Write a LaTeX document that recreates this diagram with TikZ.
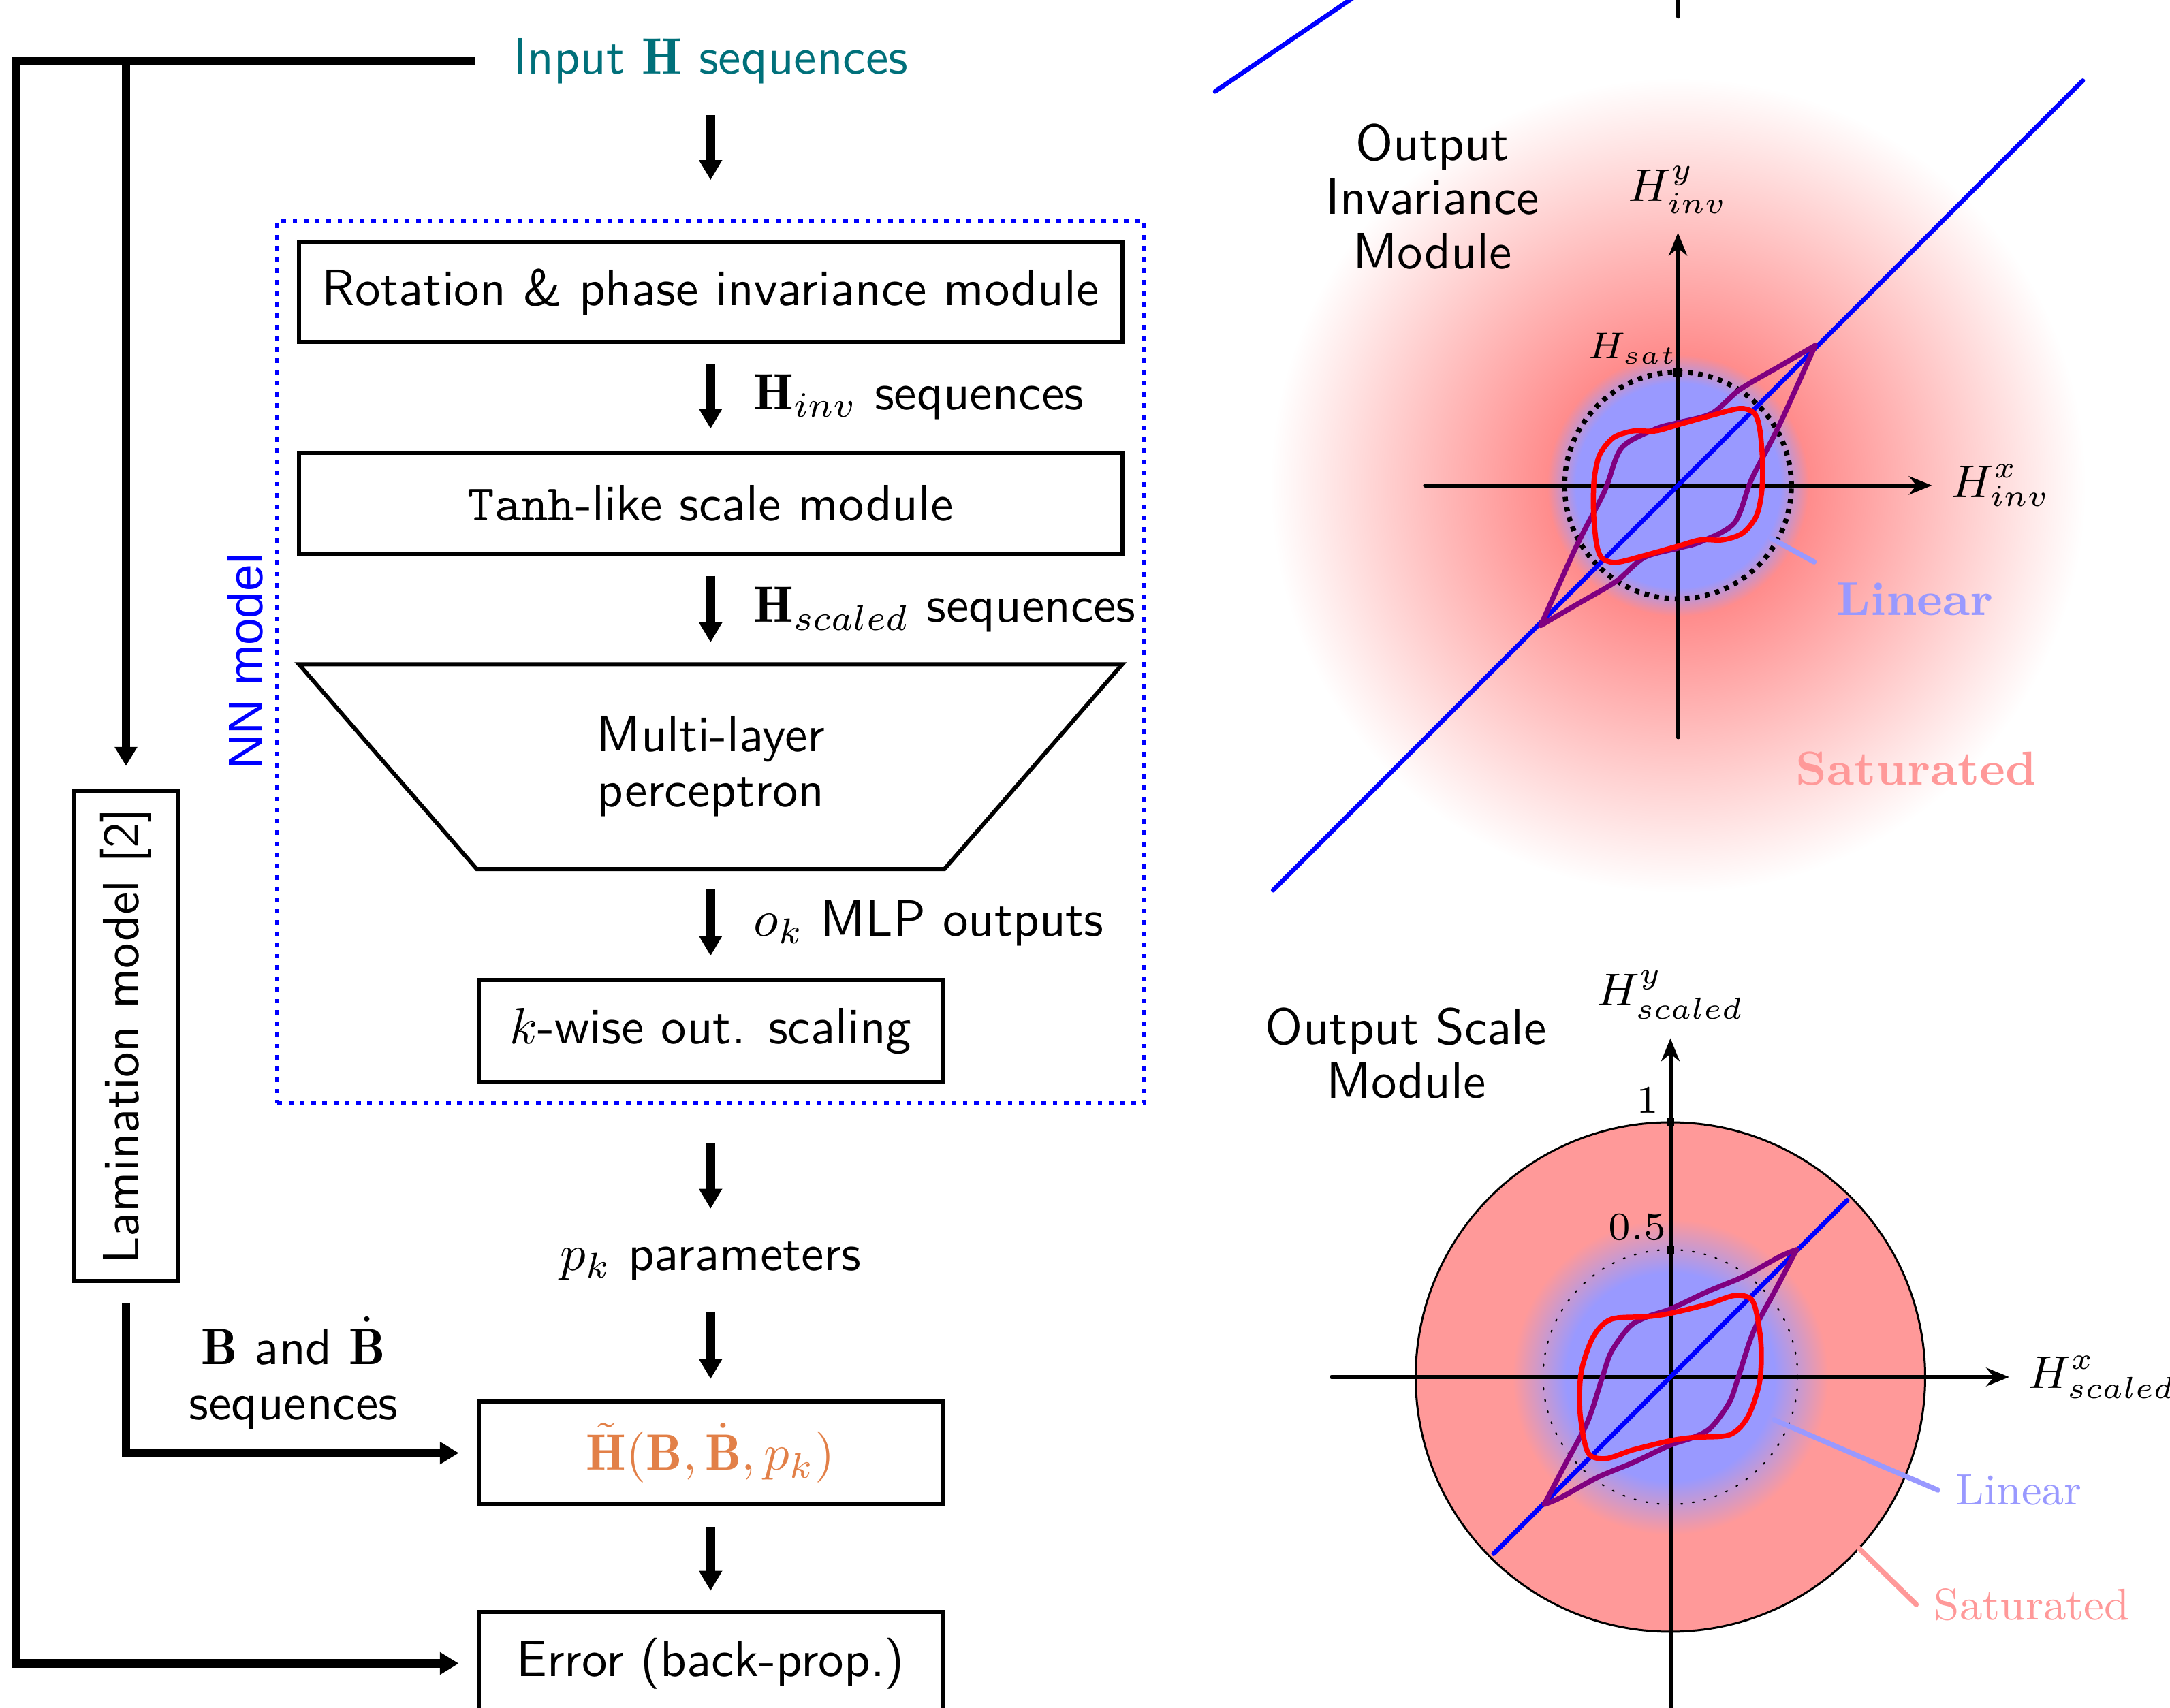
\RequirePackage{fix-cm}
\documentclass[tikz,border=0pt]{standalone}
\usepackage{fontspec}
\newfontfamily\nnfont{Liberation Sans}
\usetikzlibrary{arrows.meta,fit}

\definecolor{inputcol}{RGB}{0,112,122}
\definecolor{htcol}{RGB}{226,128,72}
\pgfdeclareradialshading{invshade}{\pgfpoint{0bp}{0bp}}{color(0bp)=(blue!40); color(6.1bp)=(blue!40); color(7.8bp)=(red!45); color(24.3bp)=(white); color(50bp)=(white)}
\pgfdeclareradialshading{sclshade}{\pgfpoint{0bp}{0bp}}{color(0bp)=(blue!40); color(16.5bp)=(blue!40); color(25bp)=(red!40); color(50bp)=(red!40)}

\begin{document}
\begin{tikzpicture}[line cap=round,font=\sffamily,
  box/.style={draw,line width=.8pt,inner sep=0pt},
  flow/.style={line width=1.7pt,line cap=butt,-{Triangle[length=3.9pt,width=4.3pt]}},
  fb/.style={line width=1.7pt,line cap=butt,-{Triangle[length=3.7pt,width=4.2pt]}},
  side/.style={midway,right,xshift=.15cm},
  axis/.style={line width=.8pt,-{Stealth[length=4.5pt,width=3.6pt]}},
  lbl/.style={font=\fontsize{9}{10}\selectfont},
  loopp/.style={violet,line width=1pt,line join=round},
  loopr/.style={red,line width=1pt},
  twoline/.style={align=center,font=\sffamily\fontsize{10}{10.8}\selectfont}]
  \useasboundingbox (0,0) rectangle (14.933,-11.752);

  \begin{scope}[shift={(11.547,-3.341)},x=.7803cm,y=.7803cm]
    \shade[shading=invshade] (0,0) circle (3.7);
    \draw[line width=1pt,line cap=butt,dash pattern=on .9pt off 1.1pt] (0,0) circle (1);
    \draw[axis] (-2.23,0) -- (2.24,0) node[right,lbl] (hxi) {$H^x_{inv}$};
    \draw[axis] (0,-2.22) -- (0,2.23) node[above,lbl] (hyi) {$H^y_{inv}$};
    \fill (-.037,.963) rectangle (.037,1.037);
    \node[font=\fontsize{7.3}{8}\selectfont] (hsat) at (-.4,1.21) {$H_{sat}$};
    \draw[blue,line width=.9pt] (-3.57,-3.57) -- (3.57,3.57);
    \draw[loopp] plot[smooth] coordinates {(-1.21,-1.235) (-.895,-.535) (-.649,-.054) (-.498,.33)
      (-.198,.498) (0,.553) (.3,.637) (.547,.847) (.895,1.051) (1.21,1.235)}
      -- plot[smooth] coordinates {(1.21,1.235) (.895,.535) (.649,.054) (.498,-.33) (.198,-.498)
      (0,-.553) (-.3,-.637) (-.547,-.847) (-.895,-1.051) (-1.21,-1.235)};
    \draw[loopr] plot[smooth cycle] coordinates {(-.739,.054) (-.691,.27) (-.571,.42) (-.396,.48)
      (-.198,.48) (0,.535) (.3,.619) (.547,.679) (.673,.637) (.721,.498) (.745,.222) (.739,-.054)
      (.691,-.27) (.571,-.42) (.396,-.48) (.198,-.48) (0,-.535) (-.3,-.619) (-.547,-.679)
      (-.673,-.637) (-.721,-.498) (-.745,-.222)};
    \coordinate (linpt) at (.82,-.465);
    \node[anchor=west,text=blue!40,font=\rmfamily\bfseries\fontsize{9.3}{10}\selectfont] (linlbl) at (1.24,-1) {Linear};
    \draw[blue!40,line width=1pt,shorten >=1pt] (linpt) -- (linlbl.north west);
    \node[anchor=west,text=red!40,font=\rmfamily\bfseries\fontsize{9.3}{10}\selectfont] (satlbl) at (.88,-2.5) {Saturated};
  \end{scope}

  \begin{scope}[shift={(11.495,-9.477)},x=1.753cm,y=1.753cm]
    \fill[red!40] (0,0) circle (1);
    \shade[shading=sclshade] (0,0) circle (.62);
    \draw[line width=.4pt] (0,0) circle (1);
    \draw[line width=.3pt,dotted] (0,0) circle (.5);
    \draw[axis] (-1.33,0) -- (1.33,0) node[right,lbl] (hxs) {$H^x_{scaled}$};
    \draw[axis] (0,-1.33) -- (0,1.33) node[above,lbl] (hys) {$H^y_{scaled}$};
    \fill (-.016,.984) rectangle (.016,1.016);
    \fill (-.016,.484) rectangle (.016,.516);
    \node[font=\fontsize{7.7}{8}\selectfont] (one) at (-.09,1.086) {$1$};
    \node[font=\fontsize{7.7}{8}\selectfont] (half) at (-.13,.588) {$0.5$};
    \draw[blue,line width=.9pt] (-.694,-.694) -- (.694,.694);
    \draw[loopp] plot[smooth] coordinates {(-.495,-.5) (-.42,-.356) (-.326,-.178) (-.267,0)
      (-.232,.099) (-.16,.198) (-.09,.237) (0,.267) (.147,.336) (.288,.395) (.43,.473) (.495,.5)}
      -- plot[smooth] coordinates {(.495,.5) (.42,.356) (.326,.178) (.267,0) (.232,-.099)
      (.16,-.198) (.09,-.237) (0,-.267) (-.147,-.336) (-.288,-.395) (-.43,-.473) (-.495,-.5)};
    \draw[loopr] plot[smooth cycle] coordinates {(-.35,.02) (-.303,.158) (-.232,.227) (-.09,.237)
      (0,.25) (.147,.286) (.253,.32) (.324,.296) (.355,.138) (.35,-.02) (.303,-.158) (.232,-.227)
      (.09,-.237) (0,-.25) (-.147,-.286) (-.253,-.32) (-.324,-.296) (-.355,-.138)};
    \coordinate (linpt2) at (.407,-.168);
    \node[anchor=west,text=blue!40,font=\rmfamily\fontsize{8.6}{10}\selectfont] (linlbl2) at (1.05,-.444) {Linear};
    \draw[blue!40,line width=1pt] (linpt2) -- (linlbl2.west);
    \coordinate (satpt2) at (.738,-.671);
    \node[anchor=west,text=red!40,font=\rmfamily\fontsize{8.7}{10}\selectfont] (satlbl2) at (.965,-.893) {Saturated};
    \draw[red!40,line width=1pt] (satpt2) -- (satlbl2.west);
  \end{scope}

  \node[align=center,font=\sffamily\fontsize{10}{10.6}\selectfont] (oinv) at (9.857,-1.352) {Output\\Invariance\\Module};
  \node[align=center,font=\sffamily\fontsize{10}{10.6}\selectfont] (oscl) at (9.676,-7.248) {Output Scale\\Module};
  \draw[blue,line width=.9pt] (8.362,-.629) -- (9.45,.11);
  \draw[line width=.8pt] (11.547,.05) -- (11.547,-.114);

  \node[text=inputcol] (input) at (4.89,-.419) {Input $\mathbf{H}$ sequences};
  \node[box,minimum width=5.667cm,minimum height=.686cm] (rot) at (4.89,-2.01) {Rotation \& phase invariance module};
  \node[box,minimum width=5.667cm,minimum height=.695cm] (tanh) at (4.89,-3.462) {\texttt{Tanh}-like scale module};
  \node[twoline,minimum width=5.667cm,minimum height=1.41cm,inner sep=0pt,outer sep=0pt] (mlp) at (4.89,-5.276) {Multi-layer\\perceptron};
  \node[box,minimum width=3.19cm,minimum height=.705cm] (kwise) at (4.89,-7.095) {$k$-wise out. scaling};
  \draw[line width=.8pt,line join=miter] (mlp.north west) -- (mlp.north east) -- (mlp.south east -| kwise.east)
    -- (mlp.south west -| kwise.west) -- cycle;
  \node[draw=blue,line width=.8pt,line cap=butt,dash pattern=on .9pt off 1.3pt,inner sep=.133cm,
    fit=(rot)(mlp)(kwise)] (nn) {};
  \node[text=blue,font=\nnfont\fontsize{9.5}{11}\selectfont,rotate=90] (nnlbl) at (1.686,-4.552) {NN model};

  \node (pk) at (4.89,-8.678) {$p_k$ parameters};
  \node[box,text=htcol,minimum width=3.19cm,minimum height=.705cm] (htilde) at (4.89,-10) {$\tilde{\mathbf{H}}(\mathbf{B},\dot{\mathbf{B}},p_k)$};
  \node[box,minimum width=3.19cm,minimum height=.705cm] (err) at (4.89,-11.448) {Error (back-prop.)};
  \node[box,minimum width=.714cm,minimum height=3.371cm] (lam) at (.867,-7.133) {\rotatebox{90}{Lamination model [2]}};
  \node[twoline] (blbl) at (2.019,-9.45) {$\mathbf{B}$ and $\dot{\mathbf{B}}$\\sequences};

  \draw[flow,shorten <=.095cm,shorten >=.267cm] (input) -- (nn);
  \draw[flow,shorten <=.14cm,shorten >=.15cm] (rot) -- (tanh) node[side] {$\mathbf{H}_{inv}$ sequences};
  \draw[flow,shorten <=.14cm,shorten >=.15cm] (tanh) -- (mlp) node[side] {$\mathbf{H}_{scaled}$ sequences};
  \draw[flow,shorten <=.14cm,shorten >=.15cm] (mlp) -- (kwise) node[side] {$o_k$ MLP outputs};
  \draw[flow,shorten <=.257cm,shorten >=.1cm] (nn) -- (pk);
  \draw[flow,shorten <=.09cm,shorten >=.143cm] (pk) -- (htilde);
  \draw[flow,shorten <=.143cm,shorten >=.133cm] (htilde) -- (err);

  \coordinate (fbk) at (.108,-.419);
  \draw[fb,line join=miter,shorten <=.14cm,shorten >=.124cm] (input.west) -- (fbk) |- (err.west);
  \draw[fb,shorten >=.162cm] (lam |- input.west) -- (lam.north);
  \draw[fb,line join=miter,shorten <=.133cm,shorten >=.124cm] (lam.south) |- (htilde.west);
\end{tikzpicture}
\end{document}
